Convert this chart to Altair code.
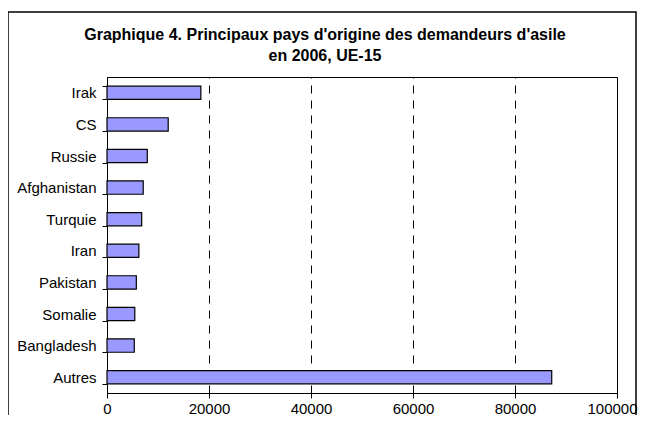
import altair as alt
import pandas as pd

countries = ["Irak", "CS", "Russie", "Afghanistan", "Turquie", "Iran",
             "Pakistan", "Somalie", "Bangladesh", "Autres"]
values = [18400, 12000, 7900, 7100, 6800, 6250, 5750, 5450, 5350, 87200]
x_ticks = [0, 20000, 40000, 60000, 80000, 100000]
title_lines = ["Graphique 4. Principaux pays d'origine des demandeurs d'asile",
               "en 2006, UE-15"]

df = pd.DataFrame({"pays": countries, "demandes": values})
FONT = "Liberation Sans"

bars = alt.Chart(df).mark_bar(
    color="#9999FF", stroke="black", strokeWidth=1.2
).encode(
    x=alt.X("demandes:Q",
            scale=alt.Scale(domain=[0, 100000], nice=False),
            axis=alt.Axis(values=x_ticks, format="d", title=None,
                          grid=True, gridColor="black", gridDash=[8, 7],
                          gridWidth=1, domainColor="black", tickColor="black",
                          tickSize=5, labelPadding=3, labelFontSize=15,
                          labelFont=FONT, labelColor="black",
                          labelFlush=False,
                          labelOffset={"condition": {"test": "datum.value === 100000",
                                                     "value": -5},
                                       "value": 0})),
    y=alt.Y("pays:N", sort=countries,
            scale=alt.Scale(paddingInner=0.58, paddingOuter=0.29),
            axis=alt.Axis(title=None, tickBand="extent", domainColor="black",
                          tickColor="black", tickSize=5, labelPadding=6,
                          labelFontSize=15, labelFont=FONT,
                          labelColor="black")),
)

frame = alt.Chart(pd.DataFrame({"a": [0]})).mark_rect(
    fill="transparent", stroke="black", strokeWidth=1.5
).encode(
    x=alt.value(-99), x2=alt.value(529),
    y=alt.value(-65), y2=alt.value(420),
)

chart = alt.layer(bars, frame).properties(
    width=510, height=316,
    autosize=alt.AutoSizeParams(type="none"),
    padding={"left": 99, "top": 69, "right": 21, "bottom": 22},
    title=alt.TitleParams(title_lines, font=FONT, fontSize=16,
                          fontWeight="bold", color="black", anchor="middle",
                          dx=-37, offset=-53, lineHeight=21),
).configure_view(stroke="black", strokeWidth=1)

chart.save("out.html", embed_options={"renderer": "svg", "actions": False})
